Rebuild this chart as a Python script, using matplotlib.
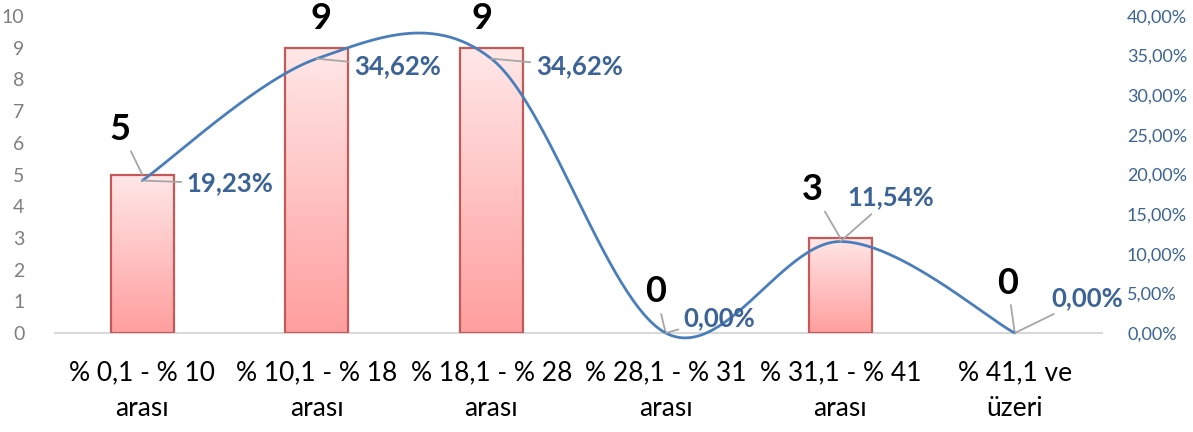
import matplotlib
matplotlib.use('Agg')
import matplotlib.pyplot as plt
import numpy as np
from matplotlib.colors import LinearSegmentedColormap

# ---------------- data ----------------
categories = ['% 0,1 - % 10\narası', '% 10,1 - % 18\narası', '% 18,1 - % 28\narası',
              '% 28,1 - % 31\narası', '% 31,1 - % 41\narası', '% 41,1 ve\nüzeri']
counts = [5, 9, 9, 0, 3, 0]
percents = [19.23, 34.62, 34.62, 0.0, 11.54, 0.0]
count_labels = ['5', '9', '9', '0', '3', '0']
percent_labels = ['19,23%', '34,62%', '34,62%', '0,00%', '11,54%', '0,00%']
left_ticks = list(range(0, 11))
right_ticks = [0, 5, 10, 15, 20, 25, 30, 35, 40]
right_tick_labels = ['0,00%', '5,00%', '10,00%', '15,00%', '20,00%', '25,00%',
                     '30,00%', '35,00%', '40,00%']

# ---------------- style ----------------
W, H = 1193, 432
fig = plt.figure(figsize=(W / 100, H / 100), dpi=100)
ax = fig.add_axes([55 / W, 99 / H, 1047 / W, 317 / H])
ax2 = ax.twinx()

FONT = ['Lato', 'DejaVu Sans']
gray = '#7F7F7F'
blue_txt = '#3B6396'
line_col = '#4A7EBB'
edge_col = '#C45A58'

x = np.arange(len(categories))
bar_w = 0.36

# bars with vertical gradient
cmap = LinearSegmentedColormap.from_list('pinkgrad', ['#FF9E9E', '#FFE8E8'])
grad = np.linspace(0, 1, 256).reshape(-1, 1)
bars = ax.bar(x, counts, width=bar_w, facecolor='none', edgecolor=edge_col,
              linewidth=1.6, zorder=3)
for b in bars:
    if b.get_height() <= 0:
        b.set_visible(False)
        continue
    bx, by = b.get_x(), b.get_y()
    im = ax.imshow(grad, extent=[bx, bx + b.get_width(), by, by + b.get_height()],
                   origin='lower', aspect='auto', cmap=cmap, zorder=2)
    im.set_clip_path(b)

ax.set_xlim(-0.5, len(categories) - 0.5)
ax.set_ylim(0, 10)
ax.set_yticks(left_ticks)
ax.tick_params(axis='y', length=0, pad=22, labelsize=14, labelcolor=gray)
for lab in ax.get_yticklabels():
    lab.set_fontfamily(FONT)
ax.set_xticks(x)
ax.set_xticklabels(categories, fontsize=19, family=FONT, linespacing=1.5)
ax.tick_params(axis='x', length=0, pad=20)

for s in ['top', 'left', 'right']:
    ax.spines[s].set_visible(False)
    ax2.spines[s].set_visible(False)
ax.spines['bottom'].set_color('#D9D9D9')
ax.spines['bottom'].set_linewidth(1.5)
ax2.spines['bottom'].set_visible(False)

# smoothed line (Excel-style bezier)
def smooth(xs, ys, n=60):
    P = np.column_stack([xs, ys]).astype(float)
    ext = np.vstack([P[0], P, P[-1]])
    out = []
    t = np.linspace(0, 1, n)[:, None]
    for i in range(len(P) - 1):
        p0, p1, p2, p3 = ext[i], ext[i + 1], ext[i + 2], ext[i + 3]
        c1 = p1 + (p2 - p0) / 6
        c2 = p2 - (p3 - p1) / 6
        seg = (1 - t) ** 3 * p1 + 3 * (1 - t) ** 2 * t * c1 + 3 * (1 - t) * t ** 2 * c2 + t ** 3 * p2
        out.append(seg)
    return np.vstack(out)

curve = smooth(x, percents)
ax2.plot(curve[:, 0], curve[:, 1], color=line_col, lw=2.0, zorder=5, clip_on=False,
         solid_capstyle='round')
ax2.set_ylim(0, 40)
ax2.set_yticks(right_ticks)
ax2.set_yticklabels(right_tick_labels)
ax2.tick_params(axis='y', length=0, pad=18, labelsize=13, labelcolor=blue_txt)
for lab in ax2.get_yticklabels():
    lab.set_fontfamily(FONT)
ax.set_zorder(ax2.get_zorder() - 1)
ax.patch.set_visible(False)
ax2.set_xlim(ax.get_xlim())

leader = dict(arrowstyle='-', color='#A6A6A6', lw=1.3, shrinkA=2, shrinkB=0)

# count labels (offsets in pixels)
count_offsets = [(-22, 45), (4, 29), (-9, 29), (-10, 41), (-28, 48), (-7, 50)]
count_leader = [True, False, False, True, True, True]
for i, (lab, off, ld) in enumerate(zip(count_labels, count_offsets, count_leader)):
    ax.annotate(lab, xy=(x[i], counts[i]), xytext=off, textcoords='offset pixels',
                ha='center', va='center', fontsize=26, fontweight='bold', color='black',
                family=FONT, zorder=6, annotation_clip=False,
                arrowprops=leader if ld else None)

# percent labels
pct_offsets = [(88, -3), (81, -8), (88, -8), (54, 15), (50, 44), (72, 35)]
for i, (lab, off) in enumerate(zip(percent_labels, pct_offsets)):
    ax2.annotate(lab, xy=(x[i], percents[i]), xytext=off, textcoords='offset pixels',
                 ha='center', va='center', fontsize=18.5, fontweight='bold', color=blue_txt,
                 family=FONT, zorder=6, annotation_clip=False,
                 arrowprops=leader)

fig.savefig('out.png', dpi=100)
